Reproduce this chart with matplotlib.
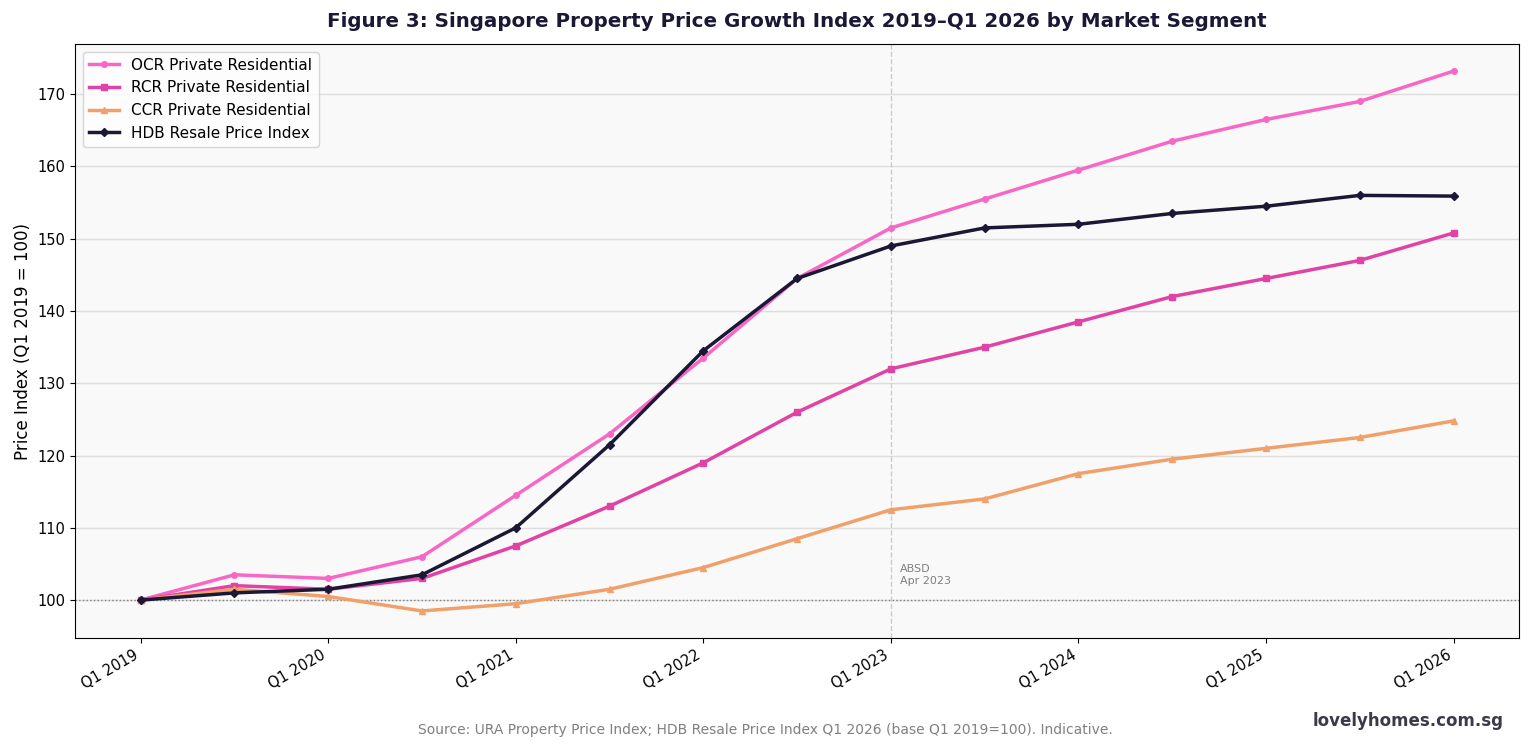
#!/usr/bin/python
# -*- coding: utf-8 -*-
"""Singapore property price growth index by market segment, Q1 2019 - Q1 2026."""

import matplotlib
matplotlib.use('Agg')
import matplotlib.pyplot as plt

PERIODS = ['Q1 2019', 'Q3 2019', 'Q1 2020', 'Q3 2020', 'Q1 2021', 'Q3 2021',
           'Q1 2022', 'Q3 2022', 'Q1 2023', 'Q3 2023', 'Q1 2024', 'Q3 2024',
           'Q1 2025', 'Q3 2025', 'Q1 2026']
OCR = [100, 103.5, 103, 106, 114.5, 123, 133.5, 144.5, 151.5, 155.5, 159.5,
       163.5, 166.5, 169, 173.2]
RCR = [100, 102, 101.5, 103, 107.5, 113, 119, 126, 132, 135, 138.5, 142,
       144.5, 147, 150.8]
CCR = [100, 101.5, 100.5, 98.5, 99.5, 101.5, 104.5, 108.5, 112.5, 114, 117.5,
       119.5, 121, 122.5, 124.8]
HDB = [100, 101, 101.5, 103.5, 110, 121.5, 134.5, 144.5, 149, 151.5, 152,
       153.5, 154.5, 156, 155.9]
ABSD_PERIOD = 'Q1 2023'

NAVY = '#1b1836'

fig = plt.figure(figsize=(15.3, 7.47), dpi=100)
ax = fig.add_axes([0.049, 0.146, 0.944, 0.795])
ax.set_facecolor('#f9f9f9')

xs = list(range(len(PERIODS)))
ax.plot(xs, OCR, color='#f768c6', lw=2.5, marker='o', ms=4,
        label='OCR Private Residential')
ax.plot(xs, RCR, color='#e043a5', lw=2.5, marker='s', ms=4,
        label='RCR Private Residential')
ax.plot(xs, CCR, color='#f0a06a', lw=2.5, marker='^', ms=4,
        label='CCR Private Residential')
ax.plot(xs, HDB, color=NAVY, lw=2.5, marker='D', ms=4,
        label='HDB Resale Price Index')

ax.axhline(100, color='grey', lw=1, ls=':', zorder=1)
xa = PERIODS.index(ABSD_PERIOD)
ax.axvline(xa, color='#cccccc', lw=1, ls='--', zorder=1)
ax.text(xa + 0.1, 102, 'ABSD\nApr 2023', fontsize=8, color='grey',
        va='bottom')

ax.set_xticks(xs[::2])
ax.set_xticklabels(PERIODS[::2], rotation=30, ha='right')
ax.tick_params(labelsize=10.5)
ax.grid(axis='y', color='#dddddd', lw=1)
ax.set_axisbelow(True)
ax.set_ylabel('Price Index (Q1 2019 = 100)', fontsize=12)
ax.legend(loc='upper left', fontsize=11)

ax.set_title('Figure 3: Singapore Property Price Growth Index 2019\u2013Q1 2026 '
             'by Market Segment', fontsize=14.3, fontweight='bold',
             color=NAVY, pad=12)
fig.text(0.5, 0.018, 'Source: URA Property Price Index; HDB Resale Price '
         'Index Q1 2026 (base Q1 2019=100). Indicative.', fontsize=10,
         color='grey', ha='center')
fig.text(0.983, 0.028, 'lovelyhomes.com.sg', fontsize=12, fontweight='bold',
         color='#3a3a4a', ha='right')

fig.savefig('out.png', dpi=100)
